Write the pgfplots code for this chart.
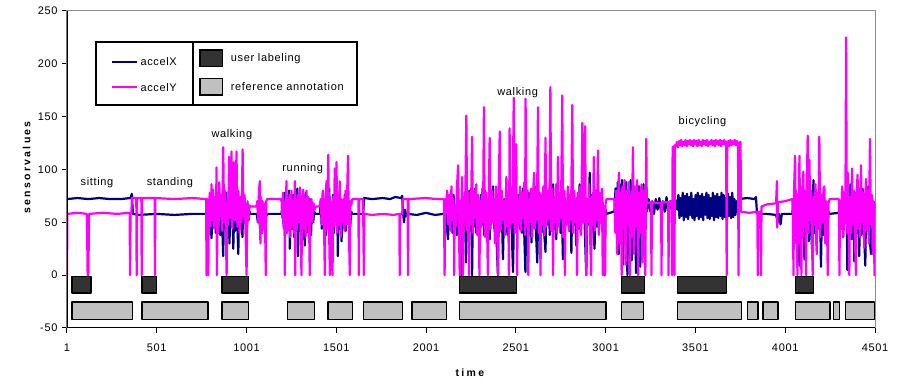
\documentclass[border=0pt]{standalone}
\usepackage{fontspec}
\setmainfont{Liberation Sans}
\newfontfamily\chartfont[LetterSpace=6]{Liberation Sans}
\newfontfamily\labfont[LetterSpace=22]{Liberation Sans}
\usepackage{pgfplots}
\pgfplotsset{compat=1.18}
\definecolor{navyc}{RGB}{0,0,128}
\definecolor{magc}{RGB}{255,0,255}
\definecolor{userfill}{RGB}{51,51,51}
\definecolor{reffill}{RGB}{192,192,192}
\definecolor{framegray}{RGB}{140,140,140}
\begin{document}
\begin{tikzpicture}[x=1pt,y=1pt]
\path (-67,-50) rectangle (836,328);
\begin{axis}[
  at={(0,0)}, anchor=south west,
  scale only axis, width=808pt, height=317pt,
  xmin=1, xmax=4501, ymin=-50, ymax=250,
  xtick={1,501,1001,1501,2001,2501,3001,3501,4001,4501},
  ytick={-50,0,50,100,150,200,250},
  tick align=outside, major tick length=5pt,
  xtick pos=left, ytick pos=left,
  tick style={black, line width=1pt},
  axis line style={framegray, line width=1pt},
  /pgf/number format/assume math mode=true,
  /pgf/number format/1000 sep={},
  tick label style={font=\fontsize{11}{13}\chartfont},
  xticklabel style={yshift=-7pt},
  yticklabel style={xshift=-1pt},
  xlabel={\textbf{time}},
  ylabel={\textbf{sensorvalues}},
  xlabel style={font=\fontsize{10.5}{12}\labfont, at={(axis description cs:0.5,-0.142)}, anchor=center},
  ylabel style={font=\fontsize{10.5}{12}\labfont, at={(axis description cs:-0.05,0.51)}, anchor=center},
  clip=true,
]
% accelX
\addplot[navyc, line width=2.2pt, line join=round] coordinates {
(1,72) (60,73) (120,72) (180,73) (240,72) (300,72) (355,73) (362,77) (368,58)
(400,57) (500,58) (600,57) (700,58) (786,58)
(790,58) (796,70) (802,45) (806,35) (812,72) (818,48) (824,66) (830,40) (836,74) (842,50) (848,62) (854,38) (860,76) (866,44) (871,18) (876,70) (882,52) (888,78) (894,40) (900,64) (906,30) (912,72) (918,46) (924,68) (927,25) (932,60) (938,42) (944,75) (950,48) (955,20) (960,70) (966,44) (972,66) (978,36) (984,74) (990,50) (996,62) (1001,30) (1006,68) (1012,52) (1018,60) (1022,58)
(1058,58) (1064,50) (1070,64) (1076,44) (1082,60) (1088,40) (1094,62) (1100,48) (1106,60) (1112,56) (1118,58) (1196,58)
(1202,70) (1208,46) (1214,78) (1220,40) (1226,66) (1232,52) (1238,80) (1242,25) (1248,62) (1254,44) (1260,76) (1266,36) (1272,68) (1278,50) (1284,82) (1287,18) (1292,60) (1298,42) (1304,74) (1310,34) (1316,70) (1322,48) (1325,28) (1330,78) (1336,40) (1342,64) (1348,46) (1354,72) (1360,38) (1366,66) (1372,50) (1378,60) (1384,58) (1409,58)
(1414,70) (1420,44) (1426,78) (1432,50) (1438,66) (1444,38) (1450,74) (1456,52) (1462,82) (1465,30) (1470,62) (1476,46) (1482,76) (1488,40) (1494,68) (1500,54) (1506,80) (1509,18) (1514,64) (1520,44) (1526,72) (1530,32) (1536,66) (1542,48) (1548,76) (1554,42) (1560,62) (1566,50) (1572,70) (1578,46) (1584,60) (1590,58)
(1650,58) (1656,73) (1700,72) (1760,73) (1800,72) (1830,74) (1860,73) (1868,75) (1872,60) (1878,50) (1884,62) (1890,56) (1896,58) (1950,57) (2000,59) (2050,57) (2100,58)
(2104,58) (2110,70) (2116,46) (2123,34) (2130,72) (2136,50) (2142,64) (2148,40) (2154,76) (2160,48) (2166,60) (2172,38) (2178,74) (2184,52) (2190,68) (2198,0) (2204,66) (2210,44) (2216,78) (2223,12) (2230,70) (2236,50) (2242,80) (2248,42) (2254,64) (2257,0) (2262,72) (2268,46) (2274,82) (2280,40) (2286,66) (2292,52) (2300,28) (2306,76) (2312,48) (2318,68) (2324,38) (2330,80) (2336,46) (2342,62) (2348,42) (2355,34) (2362,74) (2368,50) (2374,84) (2380,44) (2386,66) (2392,40) (2401,0) (2406,70) (2412,48) (2418,78) (2424,52) (2429,15) (2436,72) (2442,44) (2448,66) (2454,38) (2460,80) (2466,50) (2472,62) (2478,42) (2485,3) (2492,74) (2498,46) (2504,68) (2510,58) (2516,76) (2522,44) (2528,64) (2534,40) (2540,82) (2546,48) (2554,3) (2560,70) (2566,50) (2572,78) (2578,42) (2582,66) (2588,31) (2594,74) (2600,48) (2606,84) (2612,44) (2620,12) (2626,68) (2632,52) (2638,76) (2644,40) (2650,64) (2656,46) (2666,22) (2672,80) (2678,48) (2684,66) (2690,38) (2696,74) (2702,50) (2708,86) (2714,44) (2720,62) (2726,34) (2732,78) (2738,48) (2744,68) (2750,40) (2756,72) (2763,15) (2770,80) (2776,46) (2782,64) (2788,58) (2794,76) (2800,42) (2806,70) (2810,21) (2816,82) (2822,48) (2830,66) (2837,28) (2844,74) (2850,44) (2856,86) (2862,40) (2868,68) (2874,50) (2880,78) (2886,36) (2893,0) (2900,72) (2906,48) (2912,97) (2918,42) (2924,76) (2930,50) (2939,25) (2946,70) (2952,46) (2958,84) (2964,40) (2970,66) (2976,52) (2982,74) (2988,38) (2995,0) (3000,62) (3006,58) (3044,60)
(3050,60) (3056,82) (3062,40) (3068,88) (3074,20) (3080,86) (3086,50) (3092,90) (3098,10) (3104,84) (3110,36) (3116,88) (3122,0) (3128,80) (3134,44) (3140,90) (3146,14) (3152,86) (3158,30) (3164,82) (3170,2) (3176,88) (3182,40) (3188,84) (3194,8) (3200,78) (3206,34) (3212,86) (3218,20) (3224,70) (3230,60)
(3240,72) (3250,60) (3260,70) (3270,58) (3280,72) (3290,62) (3300,73) (3310,58) (3320,70) (3330,60) (3340,74) (3350,58) (3360,70) (3370,62) (3380,72) (3395,70)
(3400,62) (3406,76) (3412,54) (3418,73) (3424,56) (3430,78) (3436,52) (3442,75) (3448,55) (3454,77) (3460,53) (3466,74) (3472,57) (3478,78) (3484,54) (3490,72) (3496,52) (3502,76) (3508,56) (3514,78) (3520,53) (3526,75) (3532,55) (3538,77) (3544,52) (3550,74) (3556,57) (3562,78) (3568,54) (3574,76) (3580,53) (3586,73) (3592,56) (3598,78) (3604,52) (3610,75) (3616,55) (3622,77) (3628,54) (3634,74) (3640,56) (3646,78) (3652,53) (3658,76) (3664,55) (3670,73) (3676,52) (3682,77) (3688,56) (3694,74) (3700,54) (3706,78) (3712,55) (3718,72) (3724,57) (3730,70) (3736,60) (3742,72)
(3790,73) (3830,72) (3838,74) (3844,58) (3900,58) (3950,57) (3960,50) (3966,58) (3975,48) (3982,58) (4041,58)
(4046,72) (4052,40) (4058,80) (4064,30) (4070,76) (4076,48) (4080,9) (4086,70) (4092,44) (4098,84) (4104,36) (4108,15) (4114,78) (4120,50) (4126,88) (4132,32) (4138,72) (4144,46) (4152,20) (4158,90) (4164,40) (4170,76) (4176,28) (4182,70) (4188,44) (4194,80) (4200,8) (4206,68) (4212,38) (4218,74) (4224,48) (4230,64) (4236,42) (4242,60) (4248,58) (4300,59)
(4306,70) (4312,44) (4318,80) (4324,36) (4330,74) (4336,50) (4342,84) (4347,5) (4352,70) (4358,42) (4364,86) (4370,34) (4376,72) (4382,48) (4386,13) (4392,78) (4398,40) (4404,88) (4410,46) (4413,18) (4420,74) (4426,38) (4432,82) (4438,50) (4447,9) (4452,76) (4458,42) (4464,84) (4470,36) (4479,20) (4484,72) (4490,46) (4496,68) (4501,58)
};
% accelY
\addplot[magc, line width=2.2pt, line join=round] coordinates {
(1,0) (3,58) (60,59) (112,58) (116,0) (120,0) (124,58) (200,59) (280,58) (350,59) (352,0) (355,59) (360,59) (362,73) (387,73) (389,0) (391,73) (415,73) (417,0) (419,73) (489,73) (491,0) (493,73) (600,72) (700,73) (776,72) (778,0) (781,72)
(786,70) (788,0) (791,60) (796,78) (800,46) (806,86) (810,52) (815,81) (820,44) (826,74) (830,50) (834,102) (836,0) (840,62) (845,40) (849,88) (854,56) (860,76) (865,42) (871,121) (876,50) (882,80) (886,38) (890,0) (894,70) (898,48) (904,112) (908,54) (912,78) (917,117) (922,44) (926,72) (930,107) (935,52) (940,68) (945,117) (950,46) (956,80) (962,40) (968,74) (973,50) (979,119) (984,56) (990,76) (995,44) (1001,0) (1006,70) (1012,52) (1018,66) (1022,65) (1056,65)
(1060,70) (1066,50) (1070,80) (1075,89) (1078,30) (1082,74) (1086,40) (1090,70) (1094,46) (1100,68) (1104,52) (1108,0) (1111,70) (1116,72) (1190,72)
(1196,70) (1200,54) (1204,78) (1208,44) (1212,66) (1214,0) (1217,70) (1220,48) (1223,89) (1228,40) (1232,72) (1236,50) (1240,76) (1244,36) (1251,80) (1256,46) (1260,70) (1265,40) (1270,89) (1272,0) (1275,60) (1280,42) (1286,76) (1290,50) (1298,83) (1302,38) (1307,0) (1310,68) (1316,81) (1320,44) (1326,72) (1330,36) (1335,80) (1340,48) (1346,74) (1350,40) (1353,0) (1356,66) (1363,72) (1368,50) (1374,68) (1380,62) (1386,65) (1409,65)
(1414,72) (1420,48) (1426,80) (1432,52) (1437,0) (1440,66) (1446,89) (1450,44) (1456,114) (1460,50) (1465,0) (1468,70) (1474,40) (1480,0) (1483,74) (1488,46) (1492,101) (1496,52) (1502,107) (1506,40) (1512,76) (1516,48) (1520,89) (1526,36) (1532,70) (1536,50) (1540,72) (1546,42) (1552,80) (1556,48) (1560,68) (1566,113) (1570,52) (1576,0) (1579,70) (1584,66) (1590,72)
(1624,72) (1626,0) (1629,72) (1650,72) (1654,0) (1657,58) (1700,57) (1760,58) (1820,57) (1852,58) (1854,0) (1857,58) (1868,58) (1872,72) (1898,72) (1900,0) (1903,72) (2000,73) (2060,72) (2100,72)
(2104,0) (2107,72) (2112,60) (2118,80) (2124,48) (2130,76) (2136,42) (2142,84) (2148,52) (2154,72) (2157,0) (2160,66) (2166,46) (2172,80) (2179,104) (2184,44) (2188,0) (2192,70) (2196,50) (2201,93) (2204,40) (2207,0) (2210,74) (2214,46) (2220,82) (2225,151) (2230,42) (2236,78) (2240,0) (2244,64) (2250,48) (2257,131) (2262,40) (2268,80) (2274,54) (2280,86) (2286,38) (2292,76) (2298,0) (2302,70) (2308,46) (2314,82) (2318,50) (2323,159) (2328,36) (2334,78) (2340,52) (2345,0) (2350,74) (2355,130) (2360,44) (2366,80) (2372,50) (2378,72) (2384,30) (2390,84) (2396,48) (2401,0) (2405,76) (2411,136) (2416,42) (2422,80) (2428,52) (2434,70) (2440,38) (2448,93) (2452,46) (2458,78) (2462,0) (2466,139) (2470,44) (2476,82) (2482,50) (2489,168) (2494,40) (2498,76) (2503,124) (2508,0) (2512,72) (2518,48) (2524,84) (2530,42) (2536,78) (2542,54) (2548,88) (2552,38) (2555,167) (2560,46) (2566,80) (2570,0) (2574,72) (2580,50) (2586,82) (2592,36) (2597,76) (2602,97) (2606,44) (2612,80) (2618,52) (2624,159) (2628,40) (2634,78) (2638,0) (2642,70) (2648,48) (2654,84) (2660,38) (2666,130) (2670,46) (2676,80) (2682,52) (2688,72) (2693,178) (2698,42) (2704,82) (2708,0) (2712,74) (2718,50) (2724,86) (2730,40) (2735,112) (2740,46) (2746,78) (2752,54) (2759,170) (2764,36) (2770,80) (2774,0) (2778,70) (2784,48) (2790,84) (2796,42) (2802,76) (2808,52) (2815,161) (2820,40) (2826,80) (2832,50) (2838,72) (2842,0) (2846,78) (2852,46) (2858,84) (2864,38) (2871,144) (2876,50) (2882,76) (2887,141) (2890,44) (2893,0) (2897,72) (2902,50) (2908,86) (2914,40) (2920,0) (2924,74) (2930,48) (2935,112) (2940,42) (2946,80) (2952,52) (2958,118) (2962,38) (2968,78) (2974,50) (2980,82) (2985,0) (2989,66) (2994,46) (2998,0) (3001,70) (3006,72) (3048,72)
(3050,70) (3055,40) (3060,80) (3066,20) (3072,86) (3075,97) (3080,30) (3086,78) (3090,0) (3094,84) (3100,44) (3106,90) (3112,10) (3118,80) (3124,50) (3130,88) (3136,0) (3140,76) (3146,36) (3153,121) (3158,20) (3164,84) (3170,46) (3176,90) (3182,0) (3188,78) (3194,40) (3200,86) (3206,12) (3212,80) (3218,50) (3222,0) (3227,129) (3230,68)
(3254,69) (3256,0) (3259,69) (3310,68) (3312,0) (3315,69) (3349,69) (3351,0) (3354,69) (3368,70) (3371,0) (3374,121) (3380,122) (3384,0) (3387,123)
(3392,122) (3398,126) (3404,121) (3410,127) (3416,123) (3422,128) (3428,122) (3434,126) (3440,123) (3446,128) (3452,122) (3458,127) (3464,124) (3470,128) (3476,123) (3482,127) (3488,122) (3494,128) (3500,124) (3506,127) (3512,122) (3518,128) (3524,123) (3530,126) (3536,122) (3542,128) (3548,124) (3554,127) (3560,123) (3566,128) (3572,122) (3578,126) (3584,124) (3590,128) (3596,123) (3602,127) (3608,122) (3614,128) (3620,124) (3626,127) (3632,123) (3638,128) (3644,122) (3650,127) (3656,124) (3662,128) (3668,123) (3672,126) (3675,0) (3678,124) (3684,127) (3690,122) (3696,128) (3702,123) (3708,127) (3714,124) (3720,128) (3726,123) (3732,127) (3738,124) (3741,0) (3744,125) (3752,126) (3755,60)
(3758,60) (3800,59) (3846,60) (3848,0) (3851,60) (3864,60) (3866,0) (3869,65) (3900,67) (3950,68) (3955,89) (3957,45) (3960,69) (4000,70) (4040,72)
(4044,60) (4047,0) (4050,80) (4056,113) (4060,40) (4064,78) (4069,0) (4072,70) (4076,30) (4080,113) (4084,50) (4088,84) (4091,0) (4094,76) (4098,36) (4102,98) (4106,54) (4110,80) (4117,0) (4120,72) (4126,132) (4130,40) (4136,109) (4140,52) (4146,80) (4150,30) (4154,0) (4158,74) (4164,48) (4170,86) (4176,20) (4182,78) (4186,44) (4191,131) (4196,36) (4202,76) (4208,50) (4214,82) (4219,84) (4224,30) (4230,70) (4234,46) (4238,0) (4242,68) (4248,72) (4300,72)
(4303,0) (4306,70) (4312,44) (4318,84) (4324,36) (4330,78) (4336,50) (4340,225) (4344,40) (4349,97) (4354,52) (4358,0) (4362,74) (4368,40) (4373,101) (4378,48) (4384,80) (4390,30) (4395,0) (4398,76) (4404,95) (4408,44) (4414,82) (4418,36) (4423,104) (4428,50) (4434,78) (4440,26) (4446,72) (4451,91) (4456,42) (4462,80) (4466,30) (4473,129) (4478,48) (4484,76) (4488,20) (4494,70) (4498,0) (4501,66)
};
% user labeling boxes
\pgfplotsset{ubox/.style={fill=userfill, draw=black, line width=1.3pt, line join=round},
             rbox/.style={fill=reffill, draw=black, line width=1.3pt, line join=round}}
\addplot[ubox] coordinates {(29,-1) (134,-1) (134,-17) (29,-17)} --cycle;
\addplot[ubox] coordinates {(418,-1) (500,-1) (500,-17) (418,-17)} --cycle;
\addplot[ubox] coordinates {(865,-1) (1013,-1) (1013,-17) (865,-17)} --cycle;
\addplot[ubox] coordinates {(2187,-1) (2503,-1) (2503,-17) (2187,-17)} --cycle;
\addplot[ubox] coordinates {(3090,-1) (3216,-1) (3216,-17) (3090,-17)} --cycle;
\addplot[ubox] coordinates {(3401,-1) (3672,-1) (3672,-17) (3401,-17)} --cycle;
\addplot[ubox] coordinates {(4058,-1) (4160,-1) (4160,-17) (4058,-17)} --cycle;
% reference annotation boxes
\addplot[rbox] coordinates {(29,-25.5) (366,-25.5) (366,-42) (29,-42)} --cycle;
\addplot[rbox] coordinates {(418,-25.5) (787,-25.5) (787,-42) (418,-42)} --cycle;
\addplot[rbox] coordinates {(865,-25.5) (1013,-25.5) (1013,-42) (865,-42)} --cycle;
\addplot[rbox] coordinates {(1230,-25.5) (1379,-25.5) (1379,-42) (1230,-42)} --cycle;
\addplot[rbox] coordinates {(1455,-25.5) (1592,-25.5) (1592,-42) (1455,-42)} --cycle;
\addplot[rbox] coordinates {(1653,-25.5) (1868,-25.5) (1868,-42) (1653,-42)} --cycle;
\addplot[rbox] coordinates {(1922,-25.5) (2115,-25.5) (2115,-42) (1922,-42)} --cycle;
\addplot[rbox] coordinates {(2187,-25.5) (3003,-25.5) (3003,-42) (2187,-42)} --cycle;
\addplot[rbox] coordinates {(3090,-25.5) (3213,-25.5) (3213,-42) (3090,-42)} --cycle;
\addplot[rbox] coordinates {(3401,-25.5) (3759,-25.5) (3759,-42) (3401,-42)} --cycle;
\addplot[rbox] coordinates {(3791,-25.5) (3849,-25.5) (3849,-42) (3791,-42)} --cycle;
\addplot[rbox] coordinates {(3878,-25.5) (3960,-25.5) (3960,-42) (3878,-42)} --cycle;
\addplot[rbox] coordinates {(4058,-25.5) (4251,-25.5) (4251,-42) (4058,-42)} --cycle;
\addplot[rbox] coordinates {(4269,-25.5) (4304,-25.5) (4304,-42) (4269,-42)} --cycle;
\addplot[rbox] coordinates {(4335,-25.5) (4498,-25.5) (4498,-42) (4335,-42)} --cycle;
% activity labels
\begin{scope}[every node/.style={font=\fontsize{11}{13}\chartfont, anchor=center, inner sep=0pt}]
\node at (axis cs:168,88) {sitting};
\node at (axis cs:574,88) {standing};
\node at (axis cs:919,133) {walking};
\node at (axis cs:1314,101) {running};
\node at (axis cs:2511,173) {walking};
\node at (axis cs:3540,145) {bicycling};
\end{scope}
% black left and bottom axis lines
\draw[black, line width=1.6pt] (rel axis cs:0,1) -- (rel axis cs:0,0) -- (rel axis cs:1,0);
\end{axis}
% legend
\draw[black, line width=1.3pt, fill=white] (29,286) rectangle (126,223);
\draw[black, line width=1.3pt, fill=white] (126,286) rectangle (290,223);
\draw[navyc, line width=2pt] (44.7,266.3) -- (69.7,266.3);
\draw[magc, line width=2pt] (44.7,240.7) -- (69.7,240.7);
\node[anchor=west, inner sep=0pt, font=\fontsize{11}{13}\chartfont] at (73.3,266.3) {accelX};
\node[anchor=west, inner sep=0pt, font=\fontsize{11}{13}\chartfont] at (73.3,240.7) {accelY};
\draw[black, line width=1.3pt, fill=userfill] (133,278) rectangle (155.7,261.3);
\draw[black, line width=1.3pt, fill=reffill] (133,249.7) rectangle (155.7,233);
\node[anchor=west, inner sep=0pt, font=\fontsize{11}{13}\chartfont] at (163.7,269.7) {user labeling};
\node[anchor=west, inner sep=0pt, font=\fontsize{11}{13}\chartfont] at (163.7,241.3) {reference annotation};
\end{tikzpicture}
\end{document}
